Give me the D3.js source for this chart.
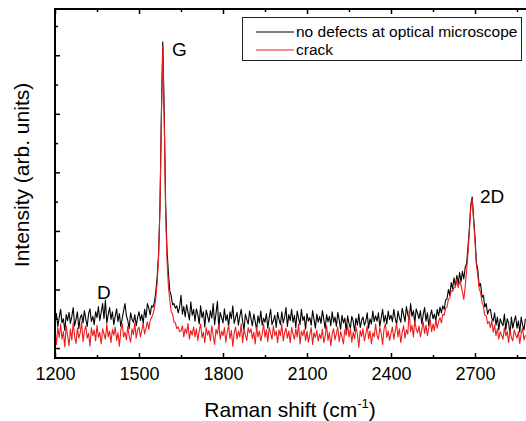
<!DOCTYPE html>
<html>
<head>
<meta charset="utf-8">
<script src="https://cdn.jsdelivr.net/npm/d3@7"></script>
<style>
  body { margin: 0; background: #fff; }
  svg { font-family: "Liberation Sans", Arial, sans-serif; }
</style>
</head>
<body>
<div id="chart"></div>
<script>
const shiftStart = 1200;
const shiftStep = 5;

const noDefects = [
  145,159,137,152,166,143,150,130,157,147,
  161,142,154,169,138,149,162,133,152,157,
  143,164,149,137,159,167,145,154,140,162,
  152,171,147,161,176,150,182,143,157,169,
  149,162,140,154,167,145,159,137,150,164,
  176,155,147,133,160,149,144,157,138,152,
  162,147,157,142,166,152,176,168,157,172,
  170,178,196,222,262,345,500,623,505,350,
  268,228,198,189,174,176,168,172,160,170,
  190,158,171,153,174,161,148,179,156,166,
  146,167,157,141,172,152,162,136,165,155,
  144,164,151,176,140,159,180,134,161,152,
  143,167,147,157,137,162,150,172,142,152,
  161,139,154,166,146,131,158,149,141,163,
  150,138,158,146,131,155,143,163,139,151,
  144,159,134,152,166,140,147,156,135,161,
  149,140,162,143,152,169,137,157,147,166,
  144,156,135,163,151,140,166,147,154,132,
  159,146,152,139,164,149,134,158,144,154,
  142,164,149,133,157,145,154,138,162,144,
  153,137,161,148,132,156,143,151,129,155,
  142,134,154,146,129,151,139,158,135,147,
  153,139,146,160,134,150,141,163,145,155,
  146,160,137,151,166,144,156,141,163,149,
  156,145,166,151,140,163,152,144,168,157,
  145,171,157,148,176,154,164,143,167,159,
  150,164,141,157,169,146,160,138,155,165,
  150,158,146,166,155,170,160,172,166,182,
  184,200,190,212,201,220,205,224,210,229,
  213,231,218,238,244,272,305,345,358,322,
  290,246,234,206,210,187,190,170,176,158,
  165,166,151,146,160,139,153,131,150,143,
  138,158,131,150,143,123,153,134,146,155,
  134,146,127,153,139,131,150
];

const crack = [
  131,106,135,118,141,115,128,102,138,121,
  104,132,114,143,120,108,134,117,126,145,
  111,129,138,117,125,103,135,121,131,112,
  139,118,127,107,133,124,115,141,119,129,
  109,132,122,136,113,126,103,130,142,119,
  127,114,137,120,110,133,123,143,117,131,
  136,119,130,142,124,134,145,132,147,152,
  158,168,185,212,255,340,495,616,490,335,
  250,205,182,162,158,144,143,133,136,128,
  129,138,119,133,125,142,115,130,122,136,
  119,133,113,129,141,118,127,109,135,122,
  130,112,138,121,106,132,124,141,115,129,
  121,135,110,127,139,116,130,103,126,136,
  115,129,119,142,109,132,122,113,135,126,
  133,116,127,107,136,119,129,112,124,141,
  118,131,111,135,125,115,138,121,129,109,
  131,121,141,112,126,134,117,129,109,135,
  124,115,133,119,141,107,129,121,132,113,
  129,110,123,135,106,126,118,130,112,124,
  116,132,109,121,138,113,127,104,124,133,
  114,125,136,111,128,119,107,131,122,139,
  119,133,110,127,116,136,124,101,130,120,
  133,112,124,138,116,129,107,126,119,141,
  122,115,135,126,106,132,142,118,129,113,
  125,136,115,129,142,119,133,109,127,138,
  117,131,124,164,128,139,119,146,133,126,
  138,119,131,145,125,139,121,135,148,128,
  141,130,148,134,145,152,143,158,156,168,
  170,183,185,198,197,203,204,218,203,214,
  208,196,183,205,232,262,300,340,355,318,
  282,242,225,201,195,178,172,156,155,142,
  145,135,147,127,139,121,133,115,128,122,
  115,135,121,129,109,132,118,112,131,123,
  117,128,108,125,134,114,122
];

const xMajor = [1200, 1500, 1800, 2100, 2400, 2700];
const xMinor = [1350, 1650, 1950, 2250, 2550, 2850];
const yMajor = [100, 200, 300, 400, 500, 600];
const yMinor = [150, 250, 350, 450, 550, 650];

const series = [
  { label: "no defects at optical microscope", values: noDefects, color: "#000000" },
  { label: "crack", values: crack, color: "#ee1d1d" },
];

const peaks = [
  { label: "G", x: 172, y: 56 },
  { label: "D", x: 97, y: 299 },
  { label: "2D", x: 480, y: 203 },
];

const width = 526, height = 421;
const margin = { top: 9, left: 55, bottom: 63 };
const plotRight = 531;

const x = d3.scaleLinear().domain([1200, 2900]).range([margin.left, plotRight]);
const y = d3.scaleLinear().domain([83, 679]).range([height - margin.bottom, margin.top]);

const svg = d3.select("#chart")
  .append("svg")
  .attr("width", width)
  .attr("height", height);

svg.append("clipPath").attr("id", "plot-clip")
  .append("rect")
  .attr("x", margin.left)
  .attr("y", margin.top)
  .attr("width", plotRight - margin.left)
  .attr("height", height - margin.bottom - margin.top);

// Spectra
const line = d3.line()
  .x((d, i) => x(shiftStart + i * shiftStep))
  .y((d) => y(d));

svg.append("g")
  .attr("clip-path", "url(#plot-clip)")
  .selectAll("path")
  .data(series)
  .join("path")
  .attr("fill", "none")
  .attr("stroke", (d) => d.color)
  .attr("stroke-width", 1.1)
  .attr("stroke-linejoin", "round")
  .attr("d", (d) => line(d.values));

// Axes (ticks point inwards)
const yBottom = height - margin.bottom;

function styleAxis(g) {
  g.select(".domain").remove();
  g.selectAll(".tick line").attr("stroke", "#000").attr("stroke-width", 1.5);
  g.selectAll(".tick text").attr("fill", "#000").attr("font-size", 18);
}

svg.append("g")
  .attr("transform", `translate(0,${yBottom})`)
  .call(d3.axisBottom(x).tickValues(xMajor).tickSize(-5).tickPadding(9).tickFormat(d3.format("d")))
  .call(styleAxis)
  .call((g) => g.selectAll(".tick text").attr("font-family", "Liberation Sans, Arial, sans-serif"));

svg.append("g")
  .attr("transform", `translate(0,${yBottom})`)
  .call(d3.axisBottom(x).tickValues(xMinor).tickSize(-3).tickFormat(""))
  .call(styleAxis);

svg.append("g")
  .attr("transform", `translate(0,${margin.top})`)
  .call(d3.axisTop(x).tickValues(xMajor).tickSize(-5).tickFormat(""))
  .call(styleAxis);

svg.append("g")
  .attr("transform", `translate(0,${margin.top})`)
  .call(d3.axisTop(x).tickValues(xMinor).tickSize(-3).tickFormat(""))
  .call(styleAxis);

svg.append("g")
  .attr("transform", `translate(${margin.left},0)`)
  .call(d3.axisLeft(y).tickValues(yMajor).tickSize(-5).tickFormat(""))
  .call(styleAxis);

svg.append("g")
  .attr("transform", `translate(${margin.left},0)`)
  .call(d3.axisLeft(y).tickValues(yMinor).tickSize(-3).tickFormat(""))
  .call(styleAxis);

// Frame
svg.append("rect")
  .attr("x", margin.left)
  .attr("y", margin.top)
  .attr("width", plotRight - margin.left)
  .attr("height", yBottom - margin.top)
  .attr("fill", "none")
  .attr("stroke", "#000")
  .attr("stroke-width", 2);

// Axis titles
const xTitle = svg.append("text")
  .attr("x", 290)
  .attr("y", 417)
  .attr("text-anchor", "middle")
  .attr("font-size", 21)
  .attr("fill", "#000");
xTitle.append("tspan").text("Raman shift (cm");
xTitle.append("tspan").attr("font-size", 13).attr("dy", -9).text("-1");
xTitle.append("tspan").attr("dy", 9).text(")");

svg.append("text")
  .attr("transform", "translate(29,175) rotate(-90)")
  .attr("text-anchor", "middle")
  .attr("font-size", 21)
  .attr("fill", "#000")
  .text("Intensity (arb. units)");

// Peak labels
svg.selectAll("text.peak")
  .data(peaks)
  .join("text")
  .attr("class", "peak")
  .attr("x", (d) => d.x)
  .attr("y", (d) => d.y)
  .attr("font-size", 19)
  .attr("fill", "#000")
  .text((d) => d.label);

// Legend
const legend = svg.append("g").attr("class", "legend");
legend.append("rect")
  .attr("x", 242.5)
  .attr("y", 17.5)
  .attr("width", 279)
  .attr("height", 43)
  .attr("fill", "#fff")
  .attr("stroke", "#222")
  .attr("stroke-width", 1);

const item = legend.selectAll("g.item")
  .data(series)
  .join("g")
  .attr("class", "item")
  .attr("transform", (d, i) => `translate(0,${32 + i * 18})`);

item.append("line")
  .attr("x1", 256)
  .attr("x2", 294)
  .attr("stroke", (d) => d.color)
  .attr("stroke-width", 1);

item.append("text")
  .attr("x", 296)
  .attr("y", 5)
  .attr("font-size", 15.5)
  .attr("fill", "#000")
  .text((d) => d.label);
</script>
</body>
</html>
